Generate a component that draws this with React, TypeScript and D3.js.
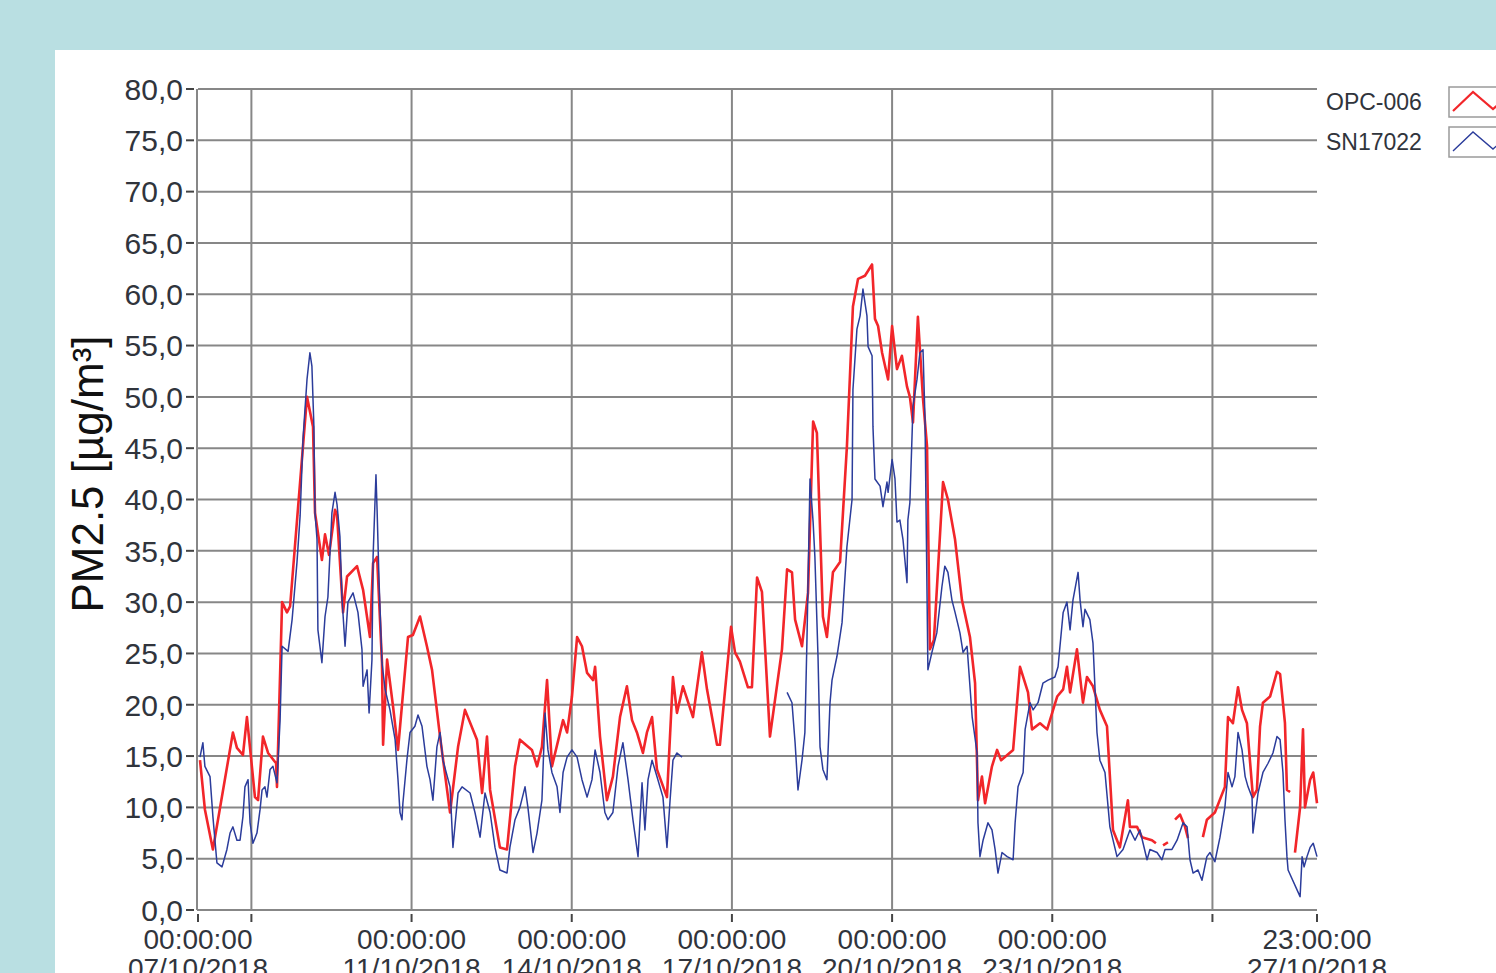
import React from "react";
import * as d3 from "d3";

// Hours since 07/10/2018 00:00:00 ; null value = gap in record
const opcHours = [0.9,3.1,6.7,15.7,17.5,20.2,22.0,25.6,27.0,29.2,31.5,35.1,35.5,37.8,40.0,41.4,47.2,49.0,51.7,52.6,55.7,57.1,58.9,61.6,62.5,65.2,67.0,71.5,74.2,77.3,78.7,80.5,82.7,83.2,85.0,87.7,89.9,94.4,96.6,99.8,102.9,105.2,108.8,113.3,116.9,120.0,125.4,127.7,129.9,131.3,135.7,138.9,142.5,144.7,150.1,152.4,154.6,156.9,159.1,164.1,165.9,168.1,170.4,172.6,174.9,177.6,178.5,180.7,183.8,186.5,189.7,192.8,195.1,197.3,200.0,201.8,204.1,206.3,210.8,213.5,215.3,218.0,222.5,226.5,228.8,233.3,234.6,239.6,241.4,243.6,247.2,249.0,251.3,253.5,257.1,262.5,264.8,267.0,268.4,271.5,274.2,276.5,278.2,280.9,282.7,285.4,288.6,291.7,294.4,296.7,299.8,303.0,304.3,305.7,307.5,310.2,312.0,314.2,316.4,318.7,320.0,321.4,323.6,325.9,327.7,329.0,330.8,334.9,337.1,340.3,343.4,347.0,349.3,350.6,352.4,353.8,356.9,359.2,361.0,366.4,369.5,373.1,374.9,378.5,381.7,386.2,388.9,390.6,392.0,395.1,397.8,399.6,402.3,405.4,408.6,411.3,414.4,418.0,418.9,422.1,424.3,428.8,430.6,432.0,433.8,436.0,437.5,439.2,441.4,443.7,445.0,448.0,451.7,453.5,457.1,461.6,463.0,465.2,467.5,469.3,471.5,474.2,476.0,477.4,478.7,481.9,485.0,486.4,488.6,489.5,490.9,492.0,493.1,495.4,496.7,497.6,499.9,501.3,503.0];
const opcValues = [14.6,9.8,5.9,17.3,15.8,15.1,18.8,11.0,10.7,16.9,15.3,14.3,12.0,30.0,29.0,29.6,45.2,50.0,47.1,38.7,34.1,36.6,34.6,39.0,38.5,29.0,32.5,33.5,31.2,26.6,33.8,34.4,24.1,16.1,24.4,19.8,15.6,26.6,26.8,28.6,25.7,23.4,16.9,9.5,15.9,19.5,16.6,11.4,16.9,11.7,6.1,5.9,14.0,16.6,15.6,14.0,15.9,22.4,14.0,18.5,17.3,20.8,26.6,25.7,23.1,22.4,23.7,16.9,10.7,13.0,18.8,21.8,18.5,17.3,15.3,17.3,18.8,13.7,11.0,22.7,19.2,21.8,18.8,25.1,21.5,16.1,16.1,27.6,25.1,24.2,21.7,21.7,32.4,31.0,16.9,25.4,33.2,32.9,28.3,25.7,30.9,47.6,46.5,28.6,26.6,32.9,33.9,45.2,58.8,61.5,61.8,62.9,57.6,56.9,54.3,51.7,56.9,52.7,54.0,51.0,50.0,47.5,57.8,49.8,45.2,25.4,26.3,41.7,40.0,36.1,30.2,26.6,22.1,10.7,13.0,10.4,14.0,15.6,14.6,15.6,23.7,21.2,17.6,18.2,17.6,20.8,21.5,23.7,21.2,25.4,20.2,22.7,21.8,19.5,17.9,7.8,6.1,10.7,8.1,8.1,7.1,6.8,6.5,null,6.3,6.6,null,8.8,9.3,8.1,7.0,null,7.1,8.8,9.5,12.0,18.8,18.2,21.7,19.5,18.2,11.0,11.7,17.9,20.2,20.8,23.2,23.0,18.2,11.7,11.5,null,5.6,10.0,17.6,10.0,12.7,13.4,10.4];

const snHours = [0.9,2.2,3.1,5.4,6.7,8.5,10.8,13.0,14.4,15.7,17.5,18.9,20.2,21.1,22.5,23.4,24.7,26.5,27.9,28.8,30.1,31.0,32.4,33.7,35.5,36.9,37.8,40.5,42.3,44.5,45.9,47.2,49.0,50.3,51.2,52.1,52.6,53.5,53.9,55.7,57.1,58.4,60.2,61.6,62.5,63.8,64.7,66.1,67.4,69.7,71.9,73.7,74.2,76.0,76.9,78.2,78.7,79.6,80.0,80.5,81.4,82.7,84.1,86.3,88.6,89.9,90.8,91.7,92.1,93.9,95.3,97.5,98.9,100.7,102.9,104.3,105.6,107.4,108.8,110.1,113.3,114.6,116.9,118.7,122.3,124.5,126.8,129.0,131.3,133.5,135.7,138.9,140.2,142.5,144.7,147.0,148.3,150.6,152.4,154.6,156.0,157.3,159.1,161.4,162.7,164.1,165.9,168.1,170.4,172.6,174.9,177.1,178.5,180.7,182.9,184.3,186.5,188.8,191.0,193.3,195.5,197.8,199.6,200.9,202.3,204.1,206.3,209.0,210.8,212.2,213.5,215.3,217.6,240.0,264.8,267.0,268.4,269.7,271.5,272.8,273.7,275.1,276.5,277.3,278.7,279.6,280.9,282.7,284.1,285.0,287.2,289.5,291.7,294.0,294.4,296.2,297.6,298.9,300.7,301.2,303.0,303.4,304.3,306.6,307.9,309.7,310.2,312.0,313.3,314.2,315.5,316.9,318.7,319.1,320.0,321.4,323.2,324.5,325.9,326.8,328.1,329.9,332.1,334.4,335.7,337.1,338.9,340.3,342.5,343.9,345.7,348.0,350.2,350.6,351.5,352.9,355.1,356.9,358.3,359.6,361.4,363.7,366.4,367.3,368.6,370.9,371.8,374.0,375.4,377.6,379.8,382.1,385.2,386.6,388.9,390.6,392.0,393.3,395.6,396.5,397.8,398.7,400.9,402.3,404.1,405.4,407.7,409.9,413.1,415.8,418.9,421.2,423.4,426.6,427.9,431.1,433.3,434.7,437.8,440.1,442.8,444.6,445.9,447.3,449.5,451.3,453.5,454.9,457.1,459.4,461.6,463.0,464.8,466.1,467.5,469.3,470.7,472.0,473.8,474.2,476.5,478.7,481.0,483.2,485.0,486.4,487.7,488.6,489.5,490.0,495.4,496.3,497.2,498.5,499.9,501.3,503.0];
const snValues = [14.9,16.3,14.0,13.0,9.1,4.6,4.2,5.9,7.5,8.1,6.8,6.8,9.1,12.0,12.7,8.5,6.5,7.5,9.8,11.7,12.0,11.0,13.7,14.0,12.4,18.5,25.7,25.2,28.3,33.9,38.4,45.9,51.7,54.3,53.0,47.1,38.7,36.1,27.3,24.1,28.6,30.5,38.7,40.7,39.5,36.4,30.5,25.7,30.0,30.9,29.0,25.4,21.8,23.4,19.2,24.4,34.4,40.0,42.4,39.0,31.9,24.1,21.5,19.5,16.6,12.7,9.5,8.8,10.4,14.6,17.3,17.9,19.0,17.9,14.0,12.7,10.7,15.9,17.3,14.6,12.0,6.1,11.4,12.0,11.4,9.5,7.1,11.4,9.5,6.1,3.9,3.6,6.1,8.8,10.0,12.0,10.0,5.6,7.5,10.7,19.2,15.6,13.4,12.0,9.5,13.4,14.9,15.6,14.9,12.7,11.0,12.7,15.6,13.4,9.5,8.8,9.5,14.0,16.3,12.7,8.8,5.2,12.4,7.8,12.7,14.6,13.0,11.0,6.1,10.7,14.6,15.3,14.9,null,21.2,20.2,16.3,11.7,14.6,17.3,26.0,42.0,37.8,34.4,24.7,15.9,13.7,12.7,20.2,22.4,24.7,28.0,35.4,40.0,50.7,56.6,57.9,60.5,57.9,54.9,54.0,47.1,42.0,41.3,39.3,41.7,40.7,43.9,42.0,37.8,38.0,36.1,31.9,38.0,39.7,49.1,51.7,54.3,54.6,47.8,23.4,25.1,27.0,31.5,33.5,32.9,30.2,29.0,27.0,25.1,25.7,18.8,15.3,8.5,5.2,6.8,8.5,7.8,5.9,3.6,5.6,5.2,4.9,8.5,12.0,13.4,17.6,20.2,19.5,20.2,22.1,22.4,22.7,23.7,29.0,30.0,27.3,30.2,32.9,30.2,27.6,29.3,28.3,26.0,17.3,14.6,13.4,8.1,5.2,5.9,7.8,6.8,7.8,4.9,5.9,5.6,4.9,5.9,5.9,6.8,8.5,8.1,4.9,3.6,3.9,2.9,5.2,5.6,4.7,7.1,10.0,13.4,12.0,13.0,17.3,15.6,13.0,12.0,11.0,7.5,11.4,13.4,14.3,15.3,16.9,16.6,13.4,8.8,5.2,3.9,1.3,5.2,4.2,5.2,6.1,6.5,5.2];

const yTicks = [0, 5, 10, 15, 20, 25, 30, 35, 40, 45, 50, 55, 60, 65, 70, 75, 80];
const xGridHours = [24, 96, 168, 240, 312, 384, 456];
const xTickHours = [0, 24, 96, 168, 240, 312, 384, 456, 503];
const xLabelHours = [0, 96, 168, 240, 312, 384, 503];
const xLabelTimes = ["00:00:00", "00:00:00", "00:00:00", "00:00:00", "00:00:00", "00:00:00", "23:00:00"];
const xLabelDates = ["07/10/2018", "11/10/2018", "14/10/2018", "17/10/2018", "20/10/2018", "23/10/2018", "27/10/2018"];
const seriesNames = ["OPC-006", "SN17022"];
const seriesColors = ["#f2262a", "#2b3c9b"];

const FONT = "'Liberation Sans', Arial, sans-serif";

export default function App() {
  const left = 198, right = 1317, top = 89, bottom = 910;
  const x = d3.scaleLinear().domain([0, 503]).range([left, right]);
  const y = d3.scaleLinear().domain([0, 80]).range([bottom, top]);

  type P = { h: number; v: number | null };
  const opc: P[] = opcHours.map((h, i) => ({ h, v: opcValues[i] }));
  const sn: P[] = snHours.map((h, i) => ({ h, v: snValues[i] }));
  const line = d3
    .line<P>()
    .defined((d) => d.v != null)
    .x((d) => x(d.h))
    .y((d) => y(d.v as number));

  const gridColor = "#878787";
  const textColor = "#30343c";

  return (
    <svg
      width={1496}
      height={973}
      style={{ position: "fixed", left: 0, top: 0, display: "block" }}
    >
      <rect x={0} y={0} width={1496} height={973} fill="#b9dfe2" />
      <rect x={55} y={50} width={1441} height={923} fill="#ffffff" />

      {/* horizontal grid */}
      {yTicks.map((t) => (
        <line key={"hg" + t} x1={left} x2={right} y1={y(t)} y2={y(t)} stroke={gridColor} strokeWidth={2} />
      ))}
      {/* vertical grid */}
      {xGridHours.map((h) => (
        <line key={"vg" + h} x1={x(h)} x2={x(h)} y1={top} y2={bottom} stroke={gridColor} strokeWidth={2} />
      ))}
      {/* axis lines */}
      <line x1={left - 1} x2={left - 1} y1={top} y2={bottom} stroke={gridColor} strokeWidth={2} />
      <line x1={left - 1} x2={right} y1={bottom} y2={bottom} stroke={gridColor} strokeWidth={2} />

      {/* y ticks */}
      {yTicks.map((t) => (
        <g key={"yt" + t}>
          <line x1={186} x2={194} y1={y(t)} y2={y(t)} stroke="#444" strokeWidth={2} />
          <text
            x={183}
            y={y(t)}
            dy="0.36em"
            textAnchor="end"
            fontFamily={FONT}
            fontSize={30}
            fill={textColor}
          >
            {t.toFixed(1).replace(".", ",")}
          </text>
        </g>
      ))}

      {/* x ticks */}
      {xTickHours.map((h) => (
        <line key={"xt" + h} x1={x(h)} x2={x(h)} y1={914} y2={922} stroke="#444" strokeWidth={2} />
      ))}
      {xLabelHours.map((h, i) => (
        <text key={"xl" + h} x={x(h)} textAnchor="middle" fontFamily={FONT} fontSize={28} fill={textColor}>
          <tspan x={x(h)} y={949}>{xLabelTimes[i]}</tspan>
          <tspan x={x(h)} y={978}>{xLabelDates[i]}</tspan>
        </text>
      ))}

      {/* y axis title */}
      <text
        transform={`translate(103, 474) rotate(-90)`}
        textAnchor="middle"
        fontFamily={FONT}
        fontSize={44}
        fill="#111"
      >
        PM2.5 [µg/m³]
      </text>

      {/* series */}
      <path d={line(opc) || ""} fill="none" stroke={seriesColors[0]} strokeWidth={2.6} strokeLinejoin="round" />
      <path d={line(sn) || ""} fill="none" stroke={seriesColors[1]} strokeWidth={1.5} strokeLinejoin="round" />

      {/* legend */}
      {seriesNames.map((n, i) => {
        const cy = 102 + i * 40;
        return (
          <g key={n}>
            <text x={1326} y={cy} dy="0.36em" fontFamily={FONT} fontSize={23} fill={textColor}>
              {n}
            </text>
            <rect x={1449} y={cy - 15} width={70} height={30} fill="#fff" stroke="#9a9a9a" strokeWidth={1.5} />
            <polyline
              points={`${1453},${cy + 9} ${1473},${cy - 10} ${1493},${cy + 7} ${1513},${cy - 10}`}
              fill="none"
              stroke={seriesColors[i]}
              strokeWidth={i === 0 ? 2.2 : 1.4}
            />
          </g>
        );
      })}
    </svg>
  );
}
